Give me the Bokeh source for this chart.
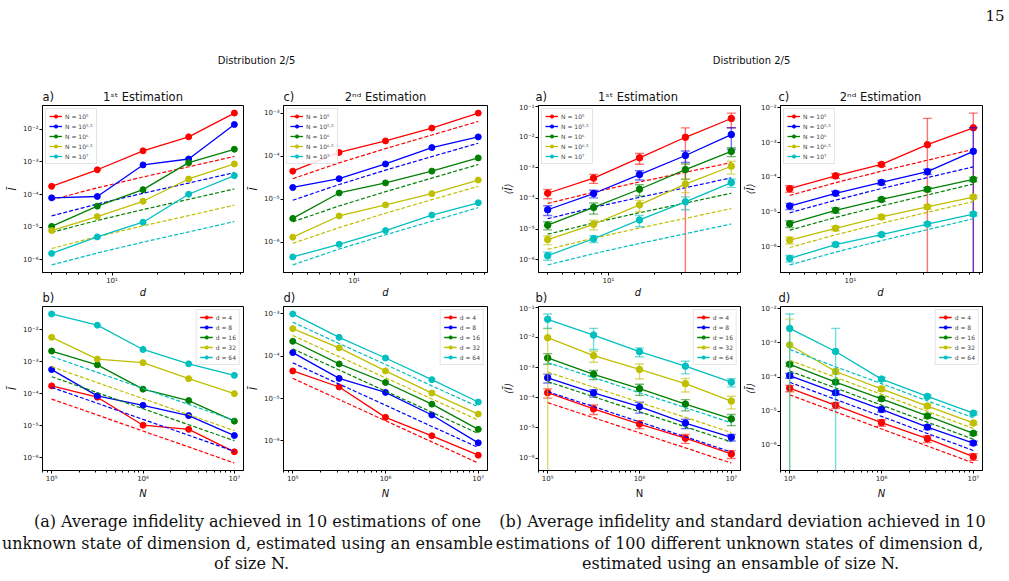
import numpy as np
from bokeh.plotting import figure
from bokeh.models import Range1d, FixedTicker, CustomJSTickFormatter, Label, Legend, LegendItem
from bokeh.layouts import column, row
from bokeh.embed import file_html
from bokeh.resources import INLINE

# ---------------- data ----------------
d_values = [4, 8, 16, 32, 64]
N_values = [1e5, 3.1623e5, 1e6, 3.1623e6, 1e7]
N_legend = ["N = 10⁵", "N = 10⁵·⁵", "N = 10⁶", "N = 10⁶·⁵", "N = 10⁷"]
d_legend = ["d = 4", "d = 8", "d = 16", "d = 32", "d = 64"]
colors = ["#ff0000", "#0000ff", "#008000", "#bfbf00", "#00bfbf"]

# rows: N = 1e5 .. 1e7 ; columns: d = 4 .. 64
single_1st = [
    [1.78e-4, 5.75e-4, 2.19e-3, 5.89e-3, 3.16e-2],
    [7.9e-5, 8.7e-5, 8.1e-4, 1.23e-3, 1.41e-2],
    [1.05e-5, 4.4e-5, 1.41e-4, 9.5e-4, 2.45e-3],
    [7.8e-6, 2.1e-5, 6.2e-5, 3.0e-4, 8.7e-4],
    [1.55e-6, 5.0e-6, 1.41e-5, 1.02e-4, 3.8e-4],
]
single_2nd = [
    [4.5e-5, 1.22e-4, 2.26e-4, 4.5e-4, 1.0e-3],
    [1.88e-5, 3.0e-5, 6.6e-5, 1.58e-4, 2.8e-4],
    [3.6e-6, 1.4e-5, 2.4e-5, 4.5e-5, 9.1e-5],
    [1.32e-6, 4.1e-6, 7.4e-6, 1.35e-5, 2.8e-5],
    [4.6e-7, 9.0e-7, 1.88e-6, 4.3e-6, 8.3e-6],
]
bound_1st = [
    [6.9e-5, 1.6e-4, 3.45e-4, 7.1e-4, 1.48e-3],
    [2.2e-5, 5.1e-5, 1.09e-4, 2.25e-4, 4.7e-4],
    [6.9e-6, 1.6e-5, 3.45e-5, 7.1e-5, 1.48e-4],
    [2.2e-6, 5.1e-6, 1.09e-5, 2.25e-5, 4.7e-5],
    [6.9e-7, 1.6e-6, 3.45e-6, 7.1e-6, 1.48e-5],
]
bound_2nd = [
    [3.0e-5, 7.0e-5, 1.5e-4, 3.1e-4, 6.4e-4],
    [9.5e-6, 2.2e-5, 4.75e-5, 9.8e-5, 2.0e-4],
    [3.0e-6, 7.0e-6, 1.5e-5, 3.1e-5, 6.4e-5],
    [9.5e-7, 2.2e-6, 4.75e-6, 9.8e-6, 2.0e-5],
    [3.0e-7, 7.0e-7, 1.5e-6, 3.1e-6, 6.4e-6],
]
mean_1st = [
    [1.48e-4, 4.6e-4, 2.1e-3, 9.8e-3, 4.0e-2],
    [4.3e-5, 1.45e-4, 6.0e-4, 2.5e-3, 1.2e-2],
    [1.35e-5, 5.1e-5, 2.0e-4, 8.7e-4, 3.4e-3],
    [4.6e-6, 1.45e-5, 6.2e-5, 2.95e-4, 1.12e-3],
    [1.38e-6, 4.9e-6, 2.0e-5, 7.8e-5, 3.3e-4],
]
std_1st = [
    [5e-5, 1.5e-4, 8e-4, 1.0e-2, 2.0e-2],
    [1.5e-5, 4e-5, 2e-4, 1.0e-3, 8e-3],
    [4e-6, 2e-5, 8e-5, 4.5e-4, 1.1e-3],
    [1.5e-6, 5e-6, 2.5e-5, 1.4e-4, 5e-4],
    [4e-7, 1.2e-6, 8e-6, 3.5e-5, 1.0e-4],
]
mean_2nd = [
    [4.7e-5, 1.1e-4, 2.35e-4, 8.7e-4, 2.66e-3],
    [1.48e-5, 3.47e-5, 7.1e-5, 1.45e-4, 5.6e-4],
    [4.6e-6, 1.12e-5, 2.3e-5, 4.5e-5, 8.7e-5],
    [1.55e-6, 3.4e-6, 7.2e-6, 1.41e-5, 2.7e-5],
    [4.6e-7, 1.16e-6, 2.24e-6, 4.5e-6, 8.7e-6],
]
std_2nd = [
    [1.0e-5, 1.8e-5, 3e-5, 4.1e-3, 4.4e-3],
    [3e-6, 5e-6, 1e-5, 2.5e-5, 2.1e-3],
    [1e-6, 1.8e-6, 3e-6, 6e-6, 1.2e-5],
    [3.5e-7, 5e-7, 1e-6, 2e-6, 3e-6],
    [1e-7, 1.5e-7, 2.5e-7, 5e-7, 1e-6],
]

panel_titles = ["1ˢᵗ Estimation", "2ⁿᵈ Estimation", "1ˢᵗ Estimation", "2ⁿᵈ Estimation"]
top_tags = ["a)", "c)", "a)", "c)"]
bottom_tags = ["b)", "d)", "b)", "d)"]


def T(m):
    return [list(r) for r in zip(*m)]


SUP_JS = """
const sup = {"0":"⁰","1":"¹","2":"²","3":"³","4":"⁴","5":"⁵","6":"⁶","7":"⁷","8":"⁸","9":"⁹","-":"⁻"};
const e = Math.round(Math.log(tick) / Math.LN10);
let s = "";
for (const c of String(e)) { s += sup[c]; }
return "10" + s;
"""

FONT = "DejaVu Sans"


def log_ticks(lo, hi, minor=True):
    majors = [10.0 ** e for e in range(int(np.floor(lo)), int(np.ceil(hi)) + 1) if lo <= e <= hi]
    minors = []
    if minor:
        for e in range(int(np.floor(lo)) - 1, int(np.ceil(hi)) + 1):
            for k in range(2, 10):
                v = k * 10.0 ** e
                if lo <= np.log10(v) <= hi:
                    minors.append(v)
    return FixedTicker(ticks=majors, minor_ticks=minors)


def panel(W, bl, br, H, bt, bb, xs, lines, dashed, errs, labels, xlabel, ylabel,
          legend_loc, xlabel_style="italic", msize=6):
    allv = []
    for i in range(5):
        allv += list(lines[i]) + list(dashed[i])
        if errs is not None:
            allv += [m + s for m, s in zip(lines[i], errs[i])]
            allv += [m - s for m, s in zip(lines[i], errs[i]) if m - s > 0]
    ylo, yhi = np.log10(min(allv)), np.log10(max(allv))
    ym = 0.05 * (yhi - ylo)
    xlo, xhi = np.log10(min(xs)), np.log10(max(xs))
    xm = 0.05 * (xhi - xlo)
    xr = (xlo - xm, xhi + xm)
    yr = (ylo - ym, yhi + ym)

    p = figure(width=W, height=H, x_axis_type="log", y_axis_type="log",
               x_range=Range1d(10 ** xr[0], 10 ** xr[1]), y_range=Range1d(10 ** yr[0], 10 ** yr[1]),
               output_backend="svg", toolbar_location=None,
               min_border_left=bl, min_border_right=br, min_border_top=bt, min_border_bottom=bb)
    p.grid.visible = False
    p.outline_line_color = "#000000"
    p.outline_line_width = 1
    p.xaxis.ticker = log_ticks(*xr, minor=True)
    p.yaxis.ticker = log_ticks(*yr, minor=False)
    for ax in (p.xaxis[0], p.yaxis[0]):
        ax.formatter = CustomJSTickFormatter(code=SUP_JS)
        ax.major_tick_out = 3
        ax.major_tick_in = 0
        ax.minor_tick_out = 2
        ax.minor_tick_in = 0
        ax.axis_line_color = "#000000"
        ax.major_tick_line_color = "#000000"
        ax.minor_tick_line_color = "#000000"
        ax.major_label_text_font = FONT
        ax.major_label_text_font_size = "7px"
        ax.major_label_text_color = "#222222"
        ax.major_label_standoff = 1
        ax.axis_label_text_font = FONT
        ax.axis_label_text_font_size = "10px"
        ax.axis_label_text_color = "#111111"
        ax.axis_label_standoff = 2
    if xlabel:
        p.xaxis.axis_label = xlabel
        p.xaxis.axis_label_text_font_style = xlabel_style
    p.yaxis.axis_label = ylabel
    p.yaxis.axis_label_text_font_style = "italic"

    items = []
    for i in range(5):
        c = colors[i]
        p.line(xs, dashed[i], line_color=c, line_width=1.2, line_dash="4 2")
        if errs is not None:
            up = [m + s for m, s in zip(lines[i], errs[i])]
            lo = [m - s if m - s > 0 else 1e-14 for m, s in zip(lines[i], errs[i])]
            p.segment(x0=xs, y0=lo, x1=xs, y1=up, line_color=c, line_width=1.4, line_alpha=0.55)
            p.scatter(xs, up, marker="dash", size=9, line_color=c, line_width=1.4, line_alpha=0.55)
            lx = [x for x, v in zip(xs, lo) if v > 1e-13]
            ly = [v for v in lo if v > 1e-13]
            p.scatter(lx, ly, marker="dash", size=9, line_color=c, line_width=1.4, line_alpha=0.55)
        lr = p.line(xs, lines[i], line_color=c, line_width=1.3)
        sr = p.scatter(xs, lines[i], marker="circle", size=msize, fill_color=c, line_color=c)
        items.append(LegendItem(label=labels[i], renderers=[lr, sr]))

    leg = Legend(items=items, location=legend_loc, label_text_font=FONT, label_text_font_size="6px",
                 glyph_width=13, glyph_height=8, label_height=8, spacing=2, padding=3, margin=3,
                 label_standoff=3, border_line_color="#cccccc", border_line_width=1,
                 background_fill_alpha=0.85)
    p.add_layout(leg)
    return p


# column geometry: (figure width, border left, border right)
cols = [(245, 42, 2), (255, 38, 13), (242, 35, 2), (267, 36, 27)]
HEAD_H = 103
TOP = (184, 2, 13)
STRIP_H = 17
BOT = (197, 2, 27)
CAP_H = 80

Ibar = "Ī"
Imean = "⟨Ī⟩"

fa = panel(*cols[0], *TOP, d_values, single_1st, bound_1st, None, N_legend, None, Ibar, "top_left")
fc = panel(*cols[1], *TOP, d_values, single_2nd, bound_2nd, None, N_legend, None, Ibar, "top_left")
fra = panel(*cols[2], *TOP, d_values, mean_1st, bound_1st, std_1st, N_legend, None, Imean, "top_left", msize=6.5)
frc = panel(*cols[3], *TOP, d_values, mean_2nd, bound_2nd, std_2nd, N_legend, None, Imean, "top_left", msize=6.5)

fb = panel(*cols[0], *BOT, N_values, T(single_1st), T(bound_1st), None, d_legend, "N", Ibar, "top_right")
fd = panel(*cols[1], *BOT, N_values, T(single_2nd), T(bound_2nd), None, d_legend, "N", Ibar, "top_right")
frb = panel(*cols[2], *BOT, N_values, T(mean_1st), T(bound_1st), T(std_1st), d_legend, "N", Imean,
            "top_right", xlabel_style="normal", msize=6.5)
frd = panel(*cols[3], *BOT, N_values, T(mean_2nd), T(bound_2nd), T(std_2nd), d_legend, "N", Imean,
            "top_right", msize=6.5)

# frame edges (page pixels) for placing the panel texts
frame_left, frame_center = [], []
x0 = 0
for W, bl, br in cols:
    frame_left.append(x0 + bl)
    frame_center.append(x0 + bl + (W - bl - br) / 2)
    x0 += W


def text_fig(h, y0):
    f = figure(width=1009, height=h, x_range=Range1d(0, 1009), y_range=Range1d(y0 + h, y0),
               output_backend="svg", toolbar_location=None, min_border=0,
               x_axis_location=None, y_axis_location=None)
    f.outline_line_color = None
    f.grid.visible = False
    return f


def put(f, x, y, text, size, font=FONT, align="left", style="normal"):
    f.add_layout(Label(x=x, y=y, text=text, text_font=font, text_font_size=size, text_align=align,
                       text_baseline="middle", text_color="#111111", text_font_style=style))


header = text_fig(HEAD_H, 0)
put(header, 1004, 15, "15", "15px", font="DejaVu Serif", align="right")
for cx in (256, 751):
    put(header, cx, 60, "Distribution 2/5", "10px", align="center")
for i in range(4):
    put(header, frame_left[i], 96, top_tags[i], "11.5px")
    put(header, frame_center[i], 96, panel_titles[i], "11.5px", align="center")

y_strip = HEAD_H + TOP[0]
strip = text_fig(STRIP_H, y_strip)
for i in range(4):
    put(strip, frame_center[i], 292, "d", "10px", align="center", style="italic")
    put(strip, frame_left[i], 297, bottom_tags[i], "11.5px")

caption = text_fig(CAP_H, 581 - CAP_H)
cap_left = ["(a) Average infidelity achieved in 10 estimations of one",
            "unknown state of dimension d, estimated using an ensamble",
            "of size N."]
cap_right = ["(b) Average infidelity and standard deviation achieved in 10",
             "estimations of 100 different unknown states of dimension d,",
             "estimated using an ensamble of size N."]
cap_y = [521, 543, 563]
for txt, cx, cy in zip(cap_left, [257, 247, 251], cap_y):
    put(caption, cx, cy, txt, "16px", font="DejaVu Serif", align="center")
for txt, cx, cy in zip(cap_right, [742, 739, 740], cap_y):
    put(caption, cx, cy, txt, "16px", font="DejaVu Serif", align="center")

layout = column(header, row(fa, fc, fra, frc), strip, row(fb, fd, frb, frd), caption)
open("out.html", "w").write(file_html(layout, INLINE))
